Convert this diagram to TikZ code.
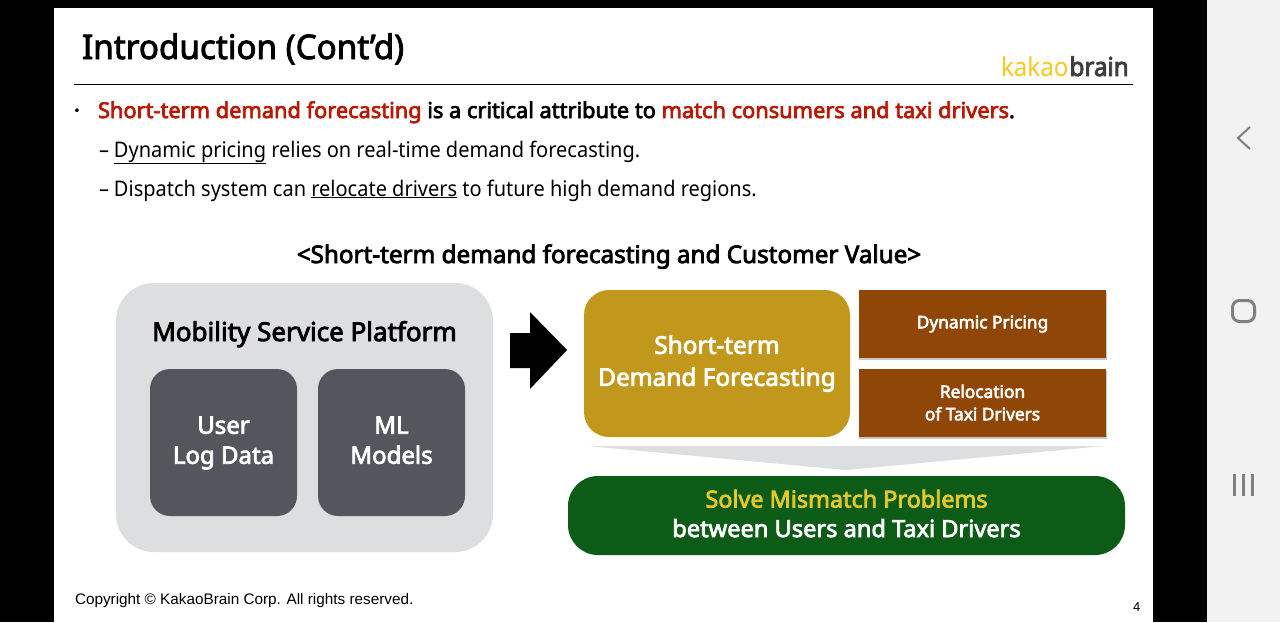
\documentclass[tikz,border=0pt]{standalone}
\usepackage{fontspec}
\setmainfont{Noto Sans}
\newfontfamily\medf[FakeBold=3.2]{Noto Sans}
\newfontfamily\narf[FakeStretch=0.93]{Noto Sans}
\newfontfamily\logof[FakeStretch=0.93]{Noto Sans}
\newfontfamily\logob[FakeStretch=0.93,FakeBold=3.2]{Noto Sans}
\newfontfamily\titlef[FakeStretch=0.98,FakeBold=2.4]{Noto Sans}
\newfontfamily\arialf{Liberation Sans}
\newcommand{\fsz}[1]{\fontsize{#1}{#1}\selectfont}
\definecolor{redT}{HTML}{B91804}
\definecolor{panel}{HTML}{F2F2F2}
\definecolor{navg}{HTML}{808080}
\definecolor{lightg}{HTML}{DDDEE0}
\definecolor{darkg}{HTML}{53565C}
\definecolor{goldb}{HTML}{C2981C}
\definecolor{brownb}{HTML}{8F4606}
\definecolor{greenb}{HTML}{0C5C18}
\definecolor{yellowt}{HTML}{E6C72A}
\definecolor{logoy}{HTML}{F5C71F}
\definecolor{logod}{HTML}{3E3E40}
\tikzset{
  txt/.style={anchor=base west,inner sep=0pt,outer sep=0pt},
  boxt/.style={align=center,inner sep=0pt,outer sep=0pt,text=white},
  navline/.style={draw=navg,line width=2pt},
  brownbox/.style={fill=brownb,boxt,minimum width=247pt,font=\medf\fsz{17.3}},
  darkbox/.style={fill=darkg,boxt,minimum width=147pt,minimum height=147pt,rounded corners=20pt,font=\medf\fsz{24}},
}
\begin{document}
\begin{tikzpicture}[x=1pt,y=-1pt]
\useasboundingbox (0,0) rectangle (1280,622);
\fill[black] (0,0) rectangle (1207,622);
\fill[white] (54,8) rectangle (1153,622);
\fill[panel] (1207,0) rectangle (1280,622);
% nav
\draw[navline,line join=miter] (1250,127) -- (1238,138) -- (1250,149);
\draw[navline,line width=3pt,rounded corners=7pt] (1232.5,300.5) rectangle (1254.5,321.5);
\draw[navline,line width=3pt] (1234,474) -- (1234,496) (1243.5,474) -- (1243.5,496) (1252.5,474) -- (1252.5,496);
% header
\node[txt,font=\titlef\fsz{33.9}] (title) at (82,59) {Introduction (Cont’d)};
\node[txt,font=\fsz{26}] (logo) at (1001,76) {\textcolor{logoy}{\logof kakao}\hspace{1pt}\textcolor{logod}{\logob brain}};
\draw[black,line width=1pt] (74,84.5) -- (1133,84.5);
% bullets
\node[txt,font=\medf\fsz{22}] (bul) at (74,118) {·};
\node[txt,font=\medf\fsz{21.8}] (l1) at (98,118) {\textcolor{redT}{Short-term demand forecasting} is a critical attribute to \textcolor{redT}{match consumers and taxi drivers}.};
\node[txt,font=\narf\fsz{21.5}] (l2) at (99,157) {–\hspace{5pt}\underline{Dynamic pricing} relies on real-time demand forecasting.};
\node[txt,font=\narf\fsz{21.5}] (l3) at (99,196) {–\hspace{5pt}Dispatch system can \underline{relocate drivers} to future high demand regions.};
\node[txt,font=\medf\fsz{24.25},anchor=base] (head) at (609,263) {<Short-term demand forecasting and Customer Value>};
% left
\node[fill=lightg,minimum width=377pt,minimum height=269pt,rounded corners=38pt,inner sep=0pt] (plat) at (304.5,417.5) {};
\node[anchor=base,font=\medf\fsz{26},inner sep=0pt] (platt) at (304.5,341) {Mobility Service Platform};
\node[darkbox] (user) at (223.5,442.5) {\rule{0pt}{18.2pt}User\\[6pt]Log Data};
\node[darkbox] (ml) at (391.5,442.5) {\rule{0pt}{18.2pt}ML\\[6pt]Models\vphantom{g}};
% arrow
\fill[black] (510,333) -- (530,333) -- (530,312) -- (567,350) -- (530,389) -- (530,368) -- (510,368) -- cycle;
% right
\node[fill=goldb,boxt,minimum width=266pt,minimum height=147pt,rounded corners=25pt,font=\medf\fsz{24.4}] (fc) at (717,363.5) {Short-term\\[7.6pt]Demand Forecasting};
\fill[black!22] (859,292) rectangle (1107,359.5);
\fill[black!22] (859,371) rectangle (1107,438.5);
\node[brownbox,minimum height=68pt] (dp) at (982.5,324) {Dynamic Pricing};
\node[brownbox,minimum height=68pt,text depth=0pt] (rel) at (982.5,403) {\raisebox{1pt}{\shortstack{Relocation\\[6pt]of Taxi Drivers}}};
\fill[lightg] (588,446) -- (1104,446) -- (846,470) -- cycle;
\node[fill=greenb,minimum width=557pt,minimum height=79pt,rounded corners=30pt,inner sep=0pt] (sol) at (846.5,515.5) {};
\node[anchor=base,text=yellowt,font=\medf\fsz{23.4},inner sep=0pt] (solA) at (846.5,507.5) {Solve Mismatch Problems};
\node[anchor=base,text=white,font=\medf\fsz{23.6},inner sep=0pt] (solB) at (846.5,537) {between Users and Taxi Drivers};
% footer
\node[txt,font=\arialf\fsz{15.3}] (copy) at (75,604) {Copyright © KakaoBrain Corp. All rights reserved.};
\node[txt,font=\arialf\fsz{13}] (pg) at (1133,611) {4};
\end{tikzpicture}
\end{document}
